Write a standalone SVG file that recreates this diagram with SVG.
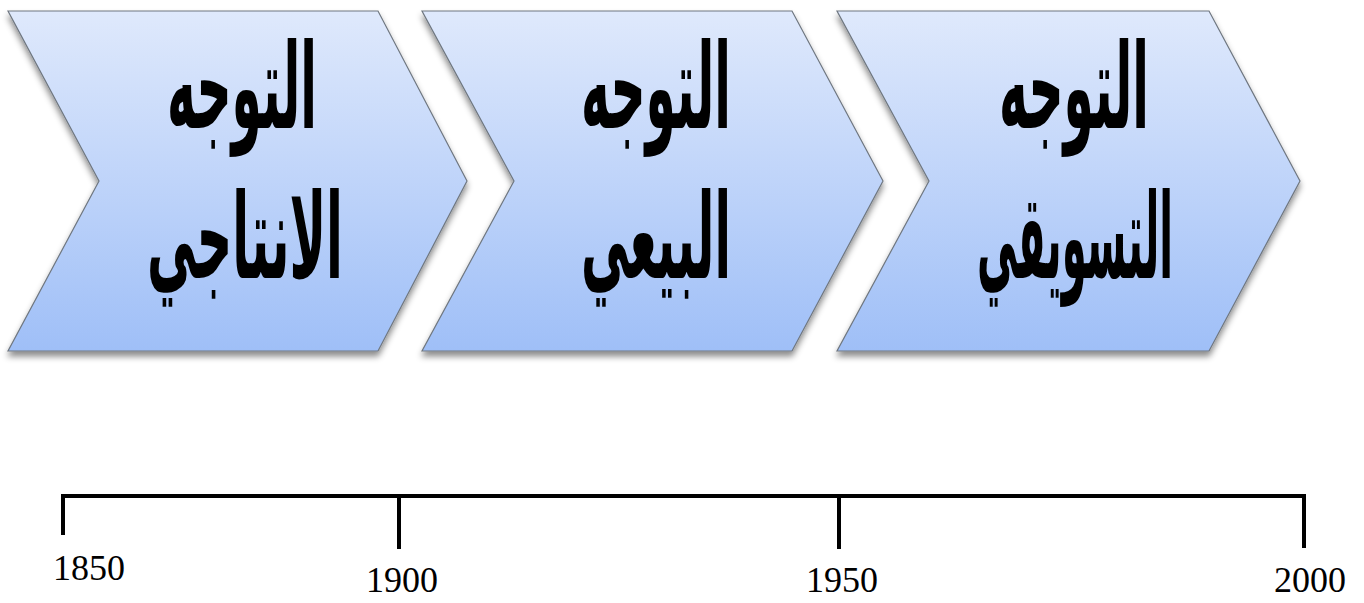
<svg xmlns="http://www.w3.org/2000/svg" width="1364" height="603" viewBox="0 0 1364 603">
<style>
.chev{fill:url(#g);stroke:#6f7780;stroke-width:1.2;filter:url(#sh)}
.ar{font-family:"DejaVu Sans",sans-serif;font-weight:bold;font-size:118px;fill:#000;text-anchor:middle}
.yr{font-family:"Liberation Serif","Times New Roman",serif;font-size:36px;fill:#000;text-anchor:middle}
.ax{stroke:#000;stroke-width:4;fill:none;stroke-linecap:square}
</style>
<defs>
<linearGradient id="g" x1="0" y1="0" x2="0" y2="1">
<stop offset="0" stop-color="#dfe9fc"/>
<stop offset="1" stop-color="#9fbff7"/>
</linearGradient>
<filter id="sh" x="-5%" y="-5%" width="110%" height="115%">
<feDropShadow dx="0" dy="5" stdDeviation="3" flood-color="#000" flood-opacity="0.45"/>
</filter>
</defs>
<g id="node1">
<polygon class="chev" points="8,11 378,11 467,181 378,351 8,351 99,181"/>
<text class="ar" x="242" y="128" textLength="150" lengthAdjust="spacingAndGlyphs">التوجه</text>
<text class="ar" x="245" y="278" textLength="196" lengthAdjust="spacingAndGlyphs">الانتاجي</text>
</g>
<g id="node2">
<polygon class="chev" points="422,11 792,11 883,181 792,351 422,351 514,181"/>
<text class="ar" x="656" y="128" textLength="150" lengthAdjust="spacingAndGlyphs">التوجه</text>
<text class="ar" x="656" y="278" textLength="150" lengthAdjust="spacingAndGlyphs">البيعي</text>
</g>
<g id="node3">
<polygon class="chev" points="837,11 1209,11 1300,181 1209,351 837,351 929,181"/>
<text class="ar" x="1074" y="128" textLength="150" lengthAdjust="spacingAndGlyphs">التوجه</text>
<text class="ar" x="1075" y="278" textLength="196" lengthAdjust="spacingAndGlyphs">التسويقي</text>
</g>
<g id="connectors">
<polyline class="ax" points="63,533 63,496 1304,496 1304,546"/>
<line class="ax" x1="399" y1="496" x2="399" y2="547"/>
<line class="ax" x1="839" y1="496" x2="839" y2="547"/>
</g>
<g id="labels">
<text class="yr" x="89" y="580">1850</text>
<text class="yr" x="402" y="592">1900</text>
<text class="yr" x="842" y="592">1950</text>
<text class="yr" x="1310" y="592">2000</text>
</g>
</svg>
